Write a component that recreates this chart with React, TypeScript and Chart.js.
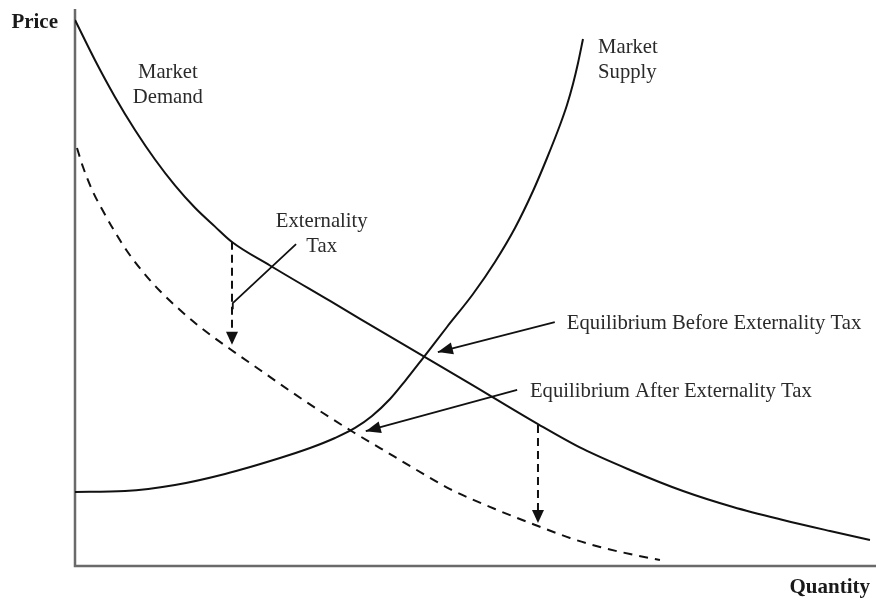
import React, { useEffect, useRef } from "react";
import { Chart, registerables } from "chart.js";

Chart.register(...registerables);

// ---- Data (quantity 0..100, price 0..100) ----
const demandQ = [0, 2.5, 4.99, 7.49, 9.99, 12.48, 14.98, 17.48, 19.6, 24.34, 31.84, 40.57, 49.31, 57.8, 63.42, 69.29, 75.91, 82.15, 88.39, 94.26, 99.25];
const demandP = [98.03, 90.81, 84.22, 78.28, 72.98, 68.33, 64.31, 60.93, 58.17, 53.95, 47.58, 40.13, 32.76, 25.49, 21.01, 17.24, 13.46, 10.59, 8.26, 6.28, 4.67];

const taxedDemandQ = [0.25, 1.0, 2.25, 3.5, 4.99, 6.49, 8.49, 10.61, 13.11, 15.61, 19.35, 23.1, 27.22, 30.96, 34.71, 38.08, 42.45, 46.82, 52.43, 57.8, 61.8, 65.54, 69.29, 73.03];
const taxedDemandP = [75.04, 71.63, 67.15, 63.73, 59.96, 56.55, 52.78, 49.37, 45.96, 42.91, 38.96, 35.19, 31.06, 27.47, 24.06, 21.18, 17.41, 13.82, 10.23, 7.18, 5.03, 3.41, 2.15, 1.08];

const supplyQ = [0, 6.24, 12.48, 18.73, 25.59, 29.34, 32.46, 34.96, 37.08, 39.33, 41.2, 43.45, 46.44, 49.69, 52.43, 54.93, 57.18, 58.93, 60.55, 61.42, 62.17, 62.8, 63.42];
const supplyP = [13.29, 13.46, 14.54, 16.52, 19.39, 21.18, 22.98, 24.78, 26.93, 29.98, 33.21, 37.34, 42.91, 48.83, 54.58, 60.68, 67.32, 73.25, 79.17, 82.76, 86.54, 90.31, 94.61];

// Externality tax arrows (vertical drop from demand to taxed demand)
const taxArrowQ = [19.6, 57.8];
const taxArrowFromP = [58.2, 25.3];
const taxArrowToP = [39.7, 7.7];

// Equilibrium pointers: start (at label) -> tip (at intersection)
const pointerFromQ = [59.9, 55.2];
const pointerFromP = [43.8, 31.6];
const pointerToQ = [45.3, 36.3];
const pointerToP = [38.4, 24.2];

// Externality tax label pointer polyline
const taxPointerQ = [27.6, 19.7, 19.7];
const taxPointerP = [57.8, 47.2, 46.1];

// Labels
const labelTexts = [
  ["Market", "Demand"],
  ["Market", "Supply"],
  ["Externality", "Tax"],
  ["Equilibrium Before Externality Tax"],
  ["Equilibrium After Externality Tax"],
];
const labelQ = [11.6, 65.3, 30.8, 61.4, 56.8];
const labelP = [87.6, 92.1, 60.9, 42.5, 30.3];
const labelAlign = ["center", "left", "center", "left", "left"];

const yAxisTitle = "Price";
const xAxisTitle = "Quantity";

const toPoints = (qs: number[], ps: number[]) => qs.map((q, i) => ({ x: q, y: ps[i] }));

const LABEL_FONT = '20.7px "Liberation Serif", "Times New Roman", serif';
const TITLE_FONT = 'bold 21px "Liberation Serif", "Times New Roman", serif';
const INK = "#111";

function arrowHead(ctx: CanvasRenderingContext2D, fx: number, fy: number, tx: number, ty: number, len: number, halfW: number) {
  const a = Math.atan2(ty - fy, tx - fx);
  const bx = tx - len * Math.cos(a);
  const by = ty - len * Math.sin(a);
  ctx.beginPath();
  ctx.moveTo(tx, ty);
  ctx.lineTo(bx + halfW * Math.sin(a), by - halfW * Math.cos(a));
  ctx.lineTo(bx - halfW * Math.sin(a), by + halfW * Math.cos(a));
  ctx.closePath();
  ctx.fill();
}

const annotationPlugin = {
  id: "econAnnotations",
  beforeDatasetsDraw(chart: any) {
    const { ctx, chartArea } = chart;
    ctx.save();
    ctx.strokeStyle = "#6a6a6a";
    ctx.lineWidth = 2.5;
    ctx.beginPath();
    ctx.moveTo(chartArea.left, chartArea.top);
    ctx.lineTo(chartArea.left, chartArea.bottom);
    ctx.lineTo(chartArea.right, chartArea.bottom);
    ctx.stroke();
    ctx.restore();
  },
  afterDatasetsDraw(chart: any) {
    const { ctx, chartArea } = chart;
    const xs = chart.scales.x;
    const ys = chart.scales.y;
    const X = (q: number) => xs.getPixelForValue(q);
    const Y = (p: number) => ys.getPixelForValue(p);
    ctx.save();
    ctx.strokeStyle = INK;
    ctx.fillStyle = INK;

    // Vertical dashed tax arrows
    const headLen = 13;
    taxArrowQ.forEach((q, i) => {
      const x = X(q);
      const y0 = Y(taxArrowFromP[i]);
      const y1 = Y(taxArrowToP[i]);
      ctx.lineWidth = 2;
      ctx.setLineDash([8, 5]);
      ctx.beginPath();
      ctx.moveTo(x, y0);
      ctx.lineTo(x, y1 - headLen + 1);
      ctx.stroke();
      ctx.setLineDash([]);
      arrowHead(ctx, x, y0, x, y1, headLen, 6);
    });

    // Equilibrium pointers
    pointerFromQ.forEach((q, i) => {
      const fx = X(q), fy = Y(pointerFromP[i]);
      const tx = X(pointerToQ[i]), ty = Y(pointerToP[i]);
      ctx.lineWidth = 1.8;
      ctx.beginPath();
      ctx.moveTo(fx, fy);
      ctx.lineTo(tx, ty);
      ctx.stroke();
      arrowHead(ctx, fx, fy, tx, ty, 15, 6);
    });

    // Externality tax label pointer
    ctx.lineWidth = 1.8;
    ctx.beginPath();
    taxPointerQ.forEach((q, i) => {
      const px = X(q), py = Y(taxPointerP[i]);
      if (i === 0) ctx.moveTo(px, py);
      else ctx.lineTo(px, py);
    });
    ctx.stroke();

    // Labels
    ctx.fillStyle = "#2a2a2a";
    ctx.font = LABEL_FONT;
    ctx.textBaseline = "alphabetic";
    labelTexts.forEach((lines, i) => {
      ctx.textAlign = labelAlign[i] as CanvasTextAlign;
      lines.forEach((line, j) => {
        ctx.fillText(line, X(labelQ[i]), Y(labelP[i]) + j * 25);
      });
    });

    // Axis titles
    ctx.font = TITLE_FONT;
    ctx.fillStyle = "#1a1a1a";
    ctx.textAlign = "right";
    ctx.fillText(yAxisTitle, chartArea.left - 17, chartArea.top + 19);
    ctx.fillText(xAxisTitle, chartArea.right - 6, chartArea.bottom + 27);
    ctx.restore();
  },
};

export default function App() {
  const canvasRef = useRef<HTMLCanvasElement | null>(null);

  useEffect(() => {
    const canvas = canvasRef.current;
    if (!canvas) return;
    const lineStyle = {
      borderColor: INK,
      borderWidth: 2,
      pointRadius: 0,
      fill: false,
      cubicInterpolationMode: "monotone" as const,
    };
    const chart = new Chart(canvas, {
      type: "line",
      data: {
        datasets: [
          { label: "Market Demand", data: toPoints(demandQ, demandP), ...lineStyle },
          { label: "Demand After Externality Tax", data: toPoints(taxedDemandQ, taxedDemandP), ...lineStyle, borderDash: [9, 7] },
          { label: "Market Supply", data: toPoints(supplyQ, supplyP), ...lineStyle },
        ],
      },
      options: {
        animation: false,
        responsive: false,
        devicePixelRatio: 1,
        layout: { padding: { left: 75, top: 9, right: 0, bottom: 35 } },
        plugins: { legend: { display: false }, tooltip: { enabled: false } },
        scales: {
          x: { type: "linear", min: 0, max: 100, display: false },
          y: { type: "linear", min: 0, max: 100, display: false },
        },
      },
      plugins: [annotationPlugin],
    });
    return () => chart.destroy();
  }, []);

  return (
    <div style={{ position: "fixed", left: 0, top: 0, width: 876, height: 601, background: "#fff" }}>
      <canvas ref={canvasRef} width={876} height={601} style={{ display: "block" }} />
    </div>
  );
}
